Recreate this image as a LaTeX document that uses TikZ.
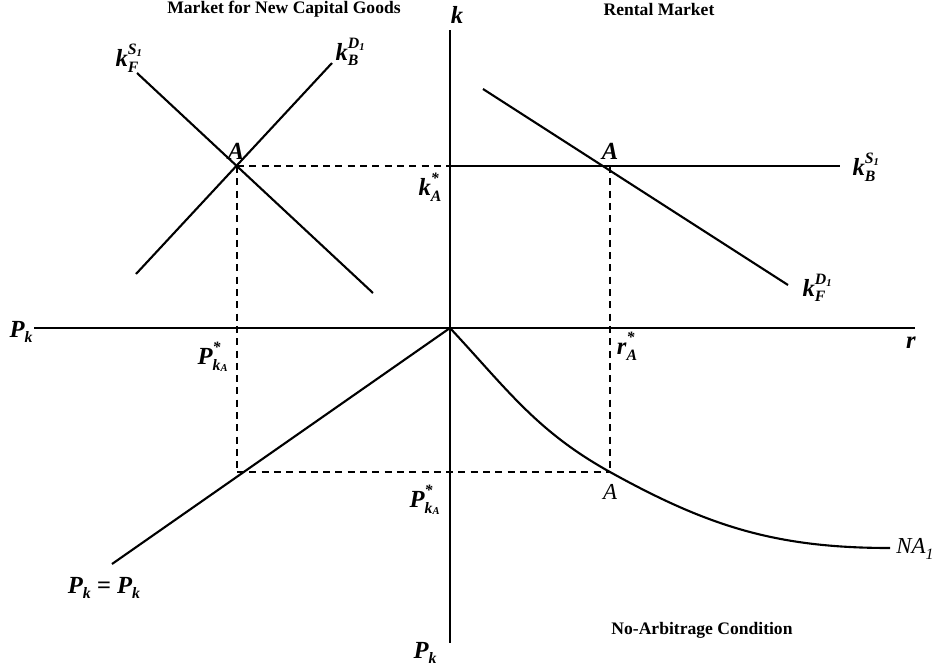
\documentclass[tikz,border=0pt]{standalone}
\usepackage{fontspec}
\setmainfont{Liberation Serif}
\usetikzlibrary{positioning}

% bold italic variable with stacked super- and subscript
\newcommand{\supsub}[3]{\textbf{\textit{#1}}\rlap{\raisebox{7pt}{\fontsize{9}{9}\selectfont\textit{#2}}}\raisebox{-3pt}{\fontsize{9}{9}\selectfont\textit{#3}}}
\newcommand{\lowsub}[1]{\raisebox{-3pt}{\fontsize{9}{9}\selectfont\textit{#1}}}

\begin{document}
\begin{tikzpicture}[
        x=0.2mm, y=-0.2mm,
        curve/.style={line width=1.2pt},
        guide/.style={line width=1.2pt, dash pattern=on 4pt off 3pt},
        lbl/.style={font=\fontsize{14}{16}\selectfont\bfseries\itshape, inner sep=0pt},
        plain/.style={font=\fontsize{13}{15}\selectfont\itshape, inner sep=0pt},
        ttl/.style={font=\fontsize{10}{12}\selectfont\bfseries, inner sep=0pt}
    ]
        \useasboundingbox (0,0) rectangle (935,669);

        % axes
        \coordinate (O) at (450,328);
        \coordinate (ktop) at (450,30);
        \coordinate (kbot) at (450,643);
        \coordinate (pleft) at (34,328);
        \coordinate (rright) at (915,328);
        \draw[curve] (ktop) -- (kbot);
        \draw[curve] (pleft) -- (rright);

        % market for new capital goods
        \coordinate (supstart) at (137,73);
        \coordinate (supend) at (373,293);
        \coordinate (demstart) at (136,274);
        \coordinate (demend) at (332,63);
        \coordinate (Anew) at (237,166);
        \draw[curve] (supstart) -- (supend);
        \draw[curve] (demstart) -- (demend);

        % rental market
        \coordinate (Arent) at (606,166);
        \coordinate (rsupend) at (840,166);
        \coordinate (rdemstart) at (483,89);
        \coordinate (rdemend) at (788,285);
        \coordinate (kstar) at (450,166);
        \draw[curve] (kstar) -- (rsupend);
        \draw[curve] (rdemstart) -- (rdemend);

        % no-arbitrage condition
        \coordinate (Ana) at (610,472);
        \coordinate (naend) at (890,548);
        \coordinate (Apk) at (237,472);
        \coordinate (pkend) at (112,564);
        \draw[curve] (O) to[out=-47, in=151] (Ana) to[out=-29, in=180] (naend);
        \draw[curve] (O) -- (pkend);

        % guides
        \draw[guide] (Anew) -- (kstar);
        \draw[guide] (Anew) -- (Apk);
        \draw[guide] (Apk) -- (Ana);
        \draw[guide] (610,166) -- (Ana);

        % titles
        \node[ttl] (ttlnew) at (284,9) {Market for New Capital Goods};
        \node[ttl] (ttlrent) at (659,9) {Rental Market};
        \node[ttl] (ttlna) at (702,630) {No-Arbitrage Condition};

        % axis labels
        \node[lbl] (klbl) at (457,15) {k};
        \node[lbl] (pklft) at (21,332) {P\lowsub{k}};
        \node[lbl] (rlbl) at (911,343) {r};
        \node[lbl] (pkbot) at (425,653) {P\lowsub{k}};

        % curve labels
        \node[lbl] (ksf) at (127,58) {\supsub{k}{S\textsubscript{1}}{F}};
        \node[lbl] (kdb) at (347,52) {\supsub{k}{D\textsubscript{1}}{B}};
        \node[lbl] (ksb) at (864,167) {\supsub{k}{S\textsubscript{1}}{B}};
        \node[lbl] (kdf) at (814,288) {\supsub{k}{D\textsubscript{1}}{F}};
        \node[plain, anchor=west] (nalbl) at (896,549) {NA\lowsub{1}};
        \node[lbl] (pkeq) at (104,588) {P\lowsub{k} = P\lowsub{k}};

        % equilibrium labels
        \node[lbl] (Alftlbl) at (236,151) {A};
        \node[lbl] (Argtlbl) at (610,151) {A};
        \node[plain] (Analbl) at (610,492) {A};
        \node[lbl] (kstarlbl) at (430,187) {\supsub{k}{*}{A}};
        \node[lbl] (pkstarl) at (213,357) {\supsub{P}{*}{k\textsubscript{A}}};
        \node[lbl] (pkstarb) at (425,500) {\supsub{P}{*}{k\textsubscript{A}}};
        \node[lbl] (rstar) at (627,346) {\supsub{r}{*}{A}};
    \end{tikzpicture}
\end{document}
